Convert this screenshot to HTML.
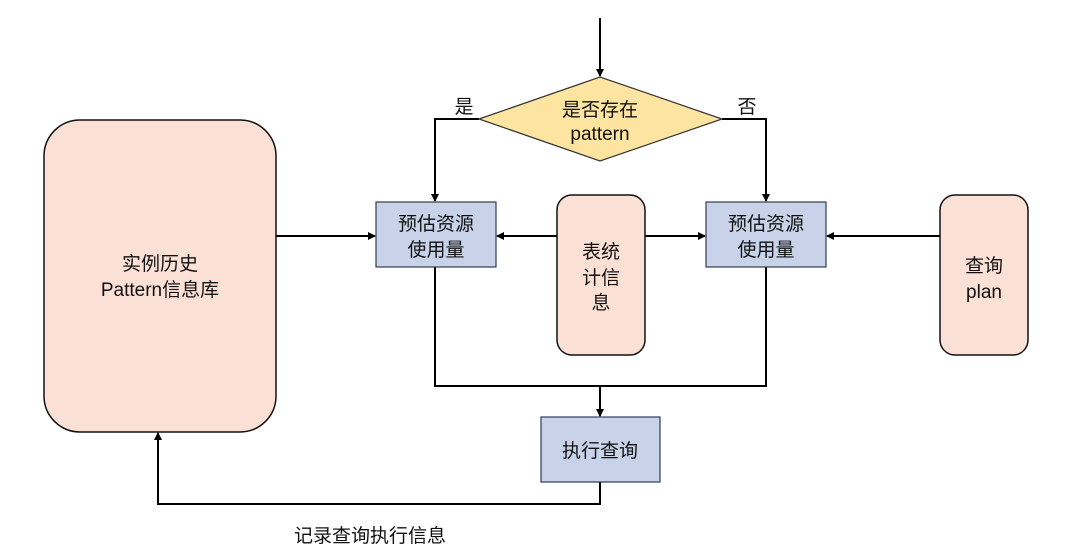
<!DOCTYPE html>
<html><head><meta charset="utf-8"><style>body{margin:0;background:#fff}svg{display:block}text{font-family:"Liberation Sans","Noto Sans CJK SC",sans-serif;font-size:19px;fill:#111;text-anchor:middle}</style></head><body>
<svg width="1080" height="560" viewBox="0 0 1080 560">
<defs><marker id="a" markerWidth="8" markerHeight="8" refX="7" refY="4" orient="auto" markerUnits="userSpaceOnUse"><path d="M0,0 L8,4 L0,8 z" fill="#000"/></marker></defs>
<g stroke="#000" stroke-width="2" fill="none">
<line x1="600" y1="18" x2="600" y2="76" marker-end="url(#a)"/>
<polyline points="479,119 435,119 435,201" marker-end="url(#a)"/>
<polyline points="722,119 766,119 766,201" marker-end="url(#a)"/>
<line x1="276" y1="236" x2="375" y2="236" marker-end="url(#a)"/>
<line x1="557" y1="236" x2="497" y2="236" marker-end="url(#a)"/>
<line x1="645" y1="236" x2="705" y2="236" marker-end="url(#a)"/>
<line x1="940" y1="236" x2="827" y2="236" marker-end="url(#a)"/>
<polyline points="435,267 435,386 766,386 766,267"/>
<line x1="600" y1="386" x2="600" y2="416" marker-end="url(#a)"/>
<polyline points="600,482 600,504 158,504 158,433" marker-end="url(#a)"/>
</g>
<polygon points="479,119 600,77 722,119 600,161" fill="#fde4a0" stroke="#333" stroke-width="1.2"/>
<rect x="44" y="120" width="232" height="312" rx="36" fill="#fbe0d6" stroke="#111" stroke-width="1.5"/>
<rect x="557" y="195" width="88" height="160" rx="15" fill="#fbe0d6" stroke="#111" stroke-width="1.5"/>
<rect x="940" y="195" width="88" height="160" rx="15" fill="#fbe0d6" stroke="#111" stroke-width="1.5"/>
<rect x="376" y="202" width="120" height="65" fill="#c8d3ea" stroke="#2f3b55" stroke-width="1.2"/>
<rect x="706" y="202" width="120" height="65" fill="#c8d3ea" stroke="#2f3b55" stroke-width="1.2"/>
<rect x="541" y="417" width="119" height="65" fill="#c8d3ea" stroke="#2f3b55" stroke-width="1.2"/>
<text x="600" y="116">是否存在</text><text x="600" y="140">pattern</text>
<text x="464" y="113">是</text><text x="747" y="113">否</text>
<text x="436" y="230">预估资源</text><text x="436" y="256">使用量</text>
<text x="766" y="230">预估资源</text><text x="766" y="256">使用量</text>
<text x="601" y="258">表统</text><text x="601" y="284">计信</text><text x="601" y="309">息</text>
<text x="984" y="272">查询</text><text x="984" y="298">plan</text>
<text x="160" y="270">实例历史</text><text x="160" y="296">Pattern信息库</text>
<text x="600" y="457">执行查询</text>
<text x="370" y="542">记录查询执行信息</text>
</svg></body></html>
